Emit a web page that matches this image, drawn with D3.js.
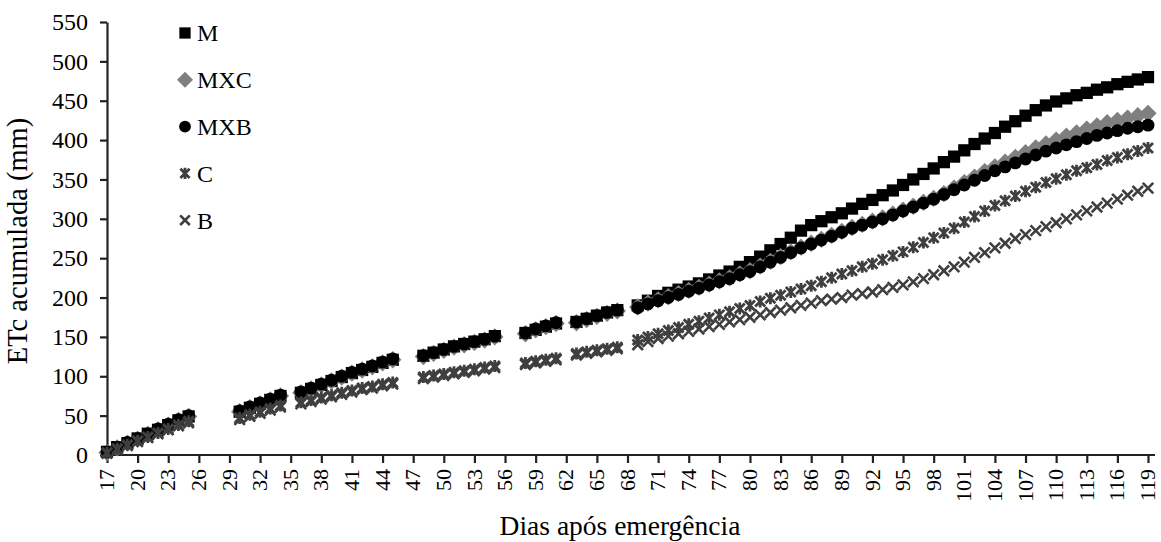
<!DOCTYPE html>
<html>
<head>
<meta charset="utf-8">
<script src="https://cdn.jsdelivr.net/npm/d3@7/dist/d3.min.js"></script>
<style>
  html, body { margin: 0; padding: 0; background: #fff; }
  svg { display: block; }
  text { font-family: "Liberation Serif", "Times New Roman", serif; fill: #000; }
</style>
</head>
<body>
<svg id="chart" width="1161" height="542"></svg>
<script>
// Days after emergence with a measurement (gaps are days without data)
const days = [
  17, 18, 19, 20, 21, 22, 23, 24, 25,
  30, 31, 32, 33, 34,
  36, 37, 38, 39, 40, 41, 42, 43, 44, 45,
  48, 49, 50, 51, 52, 53, 54, 55,
  58, 59, 60, 61,
  63, 64, 65, 66, 67,
  69, 70, 71, 72, 73, 74, 75, 76, 77, 78, 79, 80, 81, 82, 83, 84, 85, 86, 87, 88, 89,
  90, 91, 92, 93, 94, 95, 96, 97, 98, 99, 100, 101, 102, 103, 104, 105, 106, 107, 108, 109,
  110, 111, 112, 113, 114, 115, 116, 117, 118, 119
];

// Accumulated ETc (mm) per treatment, one value per entry of `days`
const etcM = [
  4, 10, 15, 21, 27, 32, 38, 44, 49,
  55, 60, 65, 70, 75,
  79, 84, 89, 94, 99, 104, 108, 112, 117, 121,
  126, 130, 134, 138, 141, 144, 147, 151,
  155, 159, 163, 167,
  169, 173, 177, 181, 184,
  190, 196, 202, 206, 210, 214, 218, 223, 228, 233, 239, 245, 252, 260, 268, 276, 285, 292, 297, 302, 307,
  313, 319, 324, 330, 336, 343, 350, 357, 364, 372, 379, 387, 395, 402, 409, 417, 424, 431, 438, 444,
  449, 453, 457, 460, 464, 467, 471, 474, 477, 480
];

const etcMXC = [
  3, 9, 15, 20, 26, 32, 38, 44, 49,
  55, 60, 65, 70, 75,
  79, 84, 89, 94, 99, 104, 108, 112, 117, 121,
  125, 129, 133, 137, 140, 143, 146, 150,
  154, 159, 163, 167,
  168, 172, 176, 180, 183,
  188, 193, 197, 201, 205, 209, 213, 217, 221, 225, 230, 234, 240, 246, 252, 258, 264, 269, 274, 279, 284,
  289, 293, 297, 301, 306, 311, 316, 321, 326, 332, 339, 346, 353, 360, 366, 372, 378, 384, 390, 395,
  400, 405, 409, 414, 418, 422, 425, 428, 431, 434
];

const etcMXB = [
  4, 10, 16, 21, 27, 33, 39, 45, 50,
  56, 61, 66, 71, 76,
  80, 85, 90, 95, 100, 105, 109, 113, 118, 122,
  126, 130, 134, 138, 141, 144, 147, 151,
  155, 160, 164, 168,
  169, 173, 177, 181, 184,
  187, 192, 196, 200, 204, 208, 212, 216, 220, 224, 229, 233, 239, 245, 251, 257, 263, 268, 273, 278, 283,
  288, 292, 296, 300, 305, 310, 315, 320, 325, 331, 337, 343, 349, 355, 361, 366, 371, 376, 381, 386,
  390, 394, 398, 402, 406, 409, 412, 415, 417, 419
];

const etcC = [
  3, 8, 13, 18, 23, 28, 33, 38, 43,
  47, 51, 55, 59, 63,
  67, 70, 73, 76, 79, 82, 85, 87, 90, 92,
  99, 101, 103, 105, 107, 109, 111, 113,
  117, 119, 121, 123,
  129, 131, 133, 135, 137,
  146, 150, 154, 158, 162, 166, 170, 174, 178, 182, 186, 190, 195, 199, 203, 207, 211, 215, 220, 225, 230,
  234, 239, 243, 248, 253, 258, 264, 270, 276, 282, 288, 296, 303, 310, 317, 323, 329, 335, 340, 346,
  351, 356, 361, 365, 369, 374, 378, 382, 386, 390
];

const etcB = [
  2, 7, 12, 17, 22, 27, 32, 37, 41,
  45, 49, 53, 57, 61,
  65, 68, 71, 74, 77, 80, 83, 85, 88, 90,
  97, 99, 101, 103, 105, 107, 109, 111,
  115, 117, 119, 121,
  127, 129, 131, 133, 135,
  140, 144, 148, 151, 154, 157, 160, 163, 166, 169, 172, 175, 178, 181, 184, 187, 190, 193, 196, 198, 200,
  203, 205, 207, 210, 213, 216, 220, 224, 229, 234, 239, 245, 251, 257, 263, 269, 275, 280, 285, 290,
  295, 300, 305, 310, 315, 320, 325, 330, 335, 339
];

const seriesNames = ["M", "MXC", "MXB", "C", "B"];
const yTicks = [0, 50, 100, 150, 200, 250, 300, 350, 400, 450, 500, 550];
const xTicks = d3.range(17, 120, 3);
const xTitle = "Dias após emergência";
const yTitle = "ETc acumulada (mm)";

// Marker shapes: square, diamond, circle, asterisk (x + vertical bar) and x
const symAsterisk = {
  draw(ctx, size) {
    const r = Math.sqrt(size) / 2;
    ctx.moveTo(-r, -r); ctx.lineTo(r, r);
    ctx.moveTo(-r, r); ctx.lineTo(r, -r);
    ctx.moveTo(0, -r * 1.2); ctx.lineTo(0, r * 1.2);
  }
};
const symX = {
  draw(ctx, size) {
    const r = Math.sqrt(size) / 2;
    ctx.moveTo(-r, -r); ctx.lineTo(r, r);
    ctx.moveTo(-r, r); ctx.lineTo(r, -r);
  }
};
// Wide diamond (rhombus with equal diagonals)
const symRhombus = {
  draw(ctx, size) {
    const r = Math.sqrt(size / 2);
    ctx.moveTo(0, -r); ctx.lineTo(r, 0); ctx.lineTo(0, r); ctx.lineTo(-r, 0); ctx.closePath();
  }
};

const styles = {
  M:   { type: d3.symbolSquare,  size: 150, fill: "#000", stroke: "none", sw: 0 },
  MXC: { type: symRhombus,       size: 150, fill: "#7f7f7f", stroke: "none", sw: 0 },
  MXB: { type: d3.symbolCircle,  size: 130, fill: "#000", stroke: "none", sw: 0 },
  C:   { type: symAsterisk,      size: 100, fill: "none", stroke: "#3f3f3f", sw: 2.8 },
  B:   { type: symX,             size: 110, fill: "none", stroke: "#3f3f3f", sw: 2.6 }
};

const seriesData = {
  M: etcM, MXC: etcMXC, MXB: etcMXB, C: etcC, B: etcB
};

const svg = d3.select("#chart");
const plot = { left: 107, right: 1148, top: 22, bottom: 455 };

const x = d3.scaleLinear().domain([17, 119]).range([plot.left, plot.right]);
const y = d3.scaleLinear().domain([0, 550]).range([plot.bottom, plot.top]);

// Y axis
const yAxis = d3.axisLeft(y).tickValues(yTicks).tickSize(7).tickPadding(12).tickSizeOuter(0);
const gy = svg.append("g").attr("transform", `translate(${plot.left},0)`).call(yAxis);
gy.select(".domain").attr("stroke", "#222").attr("stroke-width", 2.2);
gy.selectAll(".tick line").attr("stroke", "#222").attr("stroke-width", 2.2);
gy.selectAll(".tick text")
  .attr("font-family", "Liberation Serif, serif")
  .attr("font-size", 24).attr("fill", "#000");

// X axis (line runs a few px past the last day)
const xAxis = d3.axisBottom(x).tickValues(xTicks).tickSize(8).tickSizeOuter(0).tickFormat(d3.format("d"));
const gx = svg.append("g").attr("transform", `translate(0,${plot.bottom})`).call(xAxis);
gx.select(".domain").attr("d", `M${plot.left},0H${plot.right + 7}`)
  .attr("stroke", "#222").attr("stroke-width", 2.2);
gx.selectAll(".tick line").attr("stroke", "#222").attr("stroke-width", 2.2);
gx.selectAll(".tick text")
  .attr("font-family", "Liberation Serif, serif")
  .attr("font-size", 22).attr("fill", "#000")
  .attr("text-anchor", "end")
  .attr("dy", "0.3em")
  .attr("transform", "translate(0,14) rotate(-90)")
  .attr("x", 0).attr("y", 0);

// Axis titles
svg.append("text")
  .attr("x", 620).attr("y", 535)
  .attr("text-anchor", "middle")
  .attr("font-size", 27.5)
  .text(xTitle);

svg.append("text")
  .attr("transform", `translate(27,241) rotate(-90)`)
  .attr("text-anchor", "middle")
  .attr("font-size", 28.5)
  .text(yTitle);

// Series markers, drawn in legend order so later series sit on top
const plotG = svg.append("g");
seriesNames.forEach(name => {
  const st = styles[name];
  const vals = seriesData[name];
  const sym = d3.symbol().type(st.type).size(st.size);
  plotG.append("g").attr("class", "series-" + name)
    .selectAll("path")
    .data(days.map((d, i) => ({ day: d, v: vals[i] })))
    .join("path")
    .attr("transform", d => `translate(${x(d.day)},${y(d.v)})`)
    .attr("d", sym)
    .attr("fill", st.fill)
    .attr("stroke", st.stroke)
    .attr("stroke-width", st.sw);
});

// Legend
const legend = svg.append("g").attr("transform", "translate(185,33)");
seriesNames.forEach((name, i) => {
  const st = styles[name];
  const row = legend.append("g").attr("transform", `translate(0,${i * 46.8})`);
  row.append("path")
    .attr("d", d3.symbol().type(st.type).size(st.size * 0.85)())
    .attr("fill", st.fill)
    .attr("stroke", st.stroke)
    .attr("stroke-width", st.sw);
  row.append("text")
    .attr("x", 12).attr("y", 0).attr("dy", "0.35em")
    .attr("font-size", 24)
    .text(name);
});
</script>
</body>
</html>
